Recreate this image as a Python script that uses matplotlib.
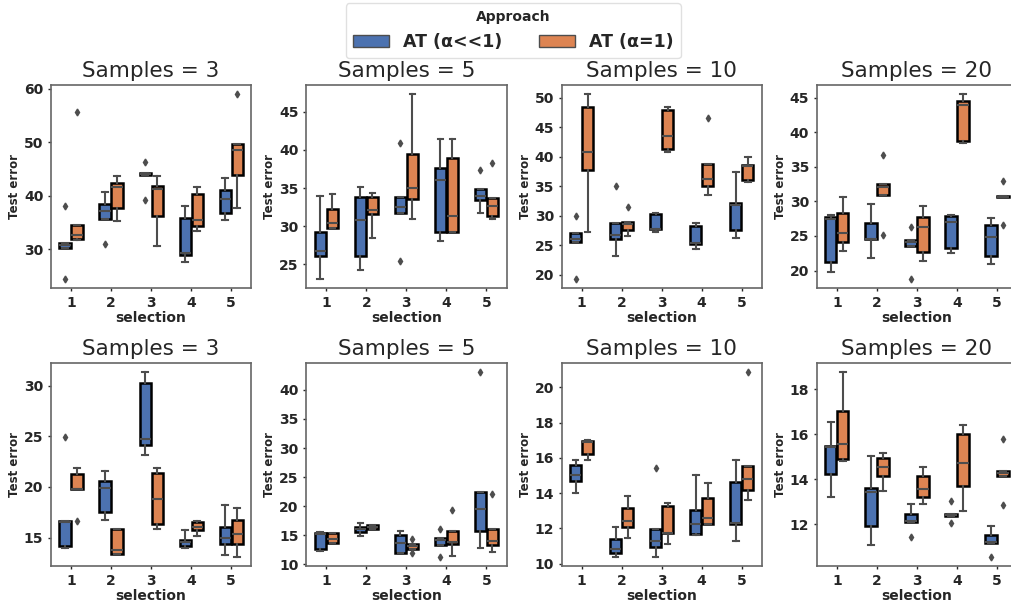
import matplotlib
matplotlib.use("Agg")
import matplotlib.pyplot as plt
from matplotlib.patches import Patch
from matplotlib.ticker import MultipleLocator
import numpy as np


SELECTION = [1, 2, 3, 4, 5]
SAMPLES = [3, 5, 10, 20]
APPROACHES = ["AT (α<<1)", "AT (α=1)"]
COLORS = ["#4C72B0", "#DD8452"]

# one tuple per selection: (whisker low, q1, median, q3, whisker high, [outliers])
TOP_3_SMALL = [
    (30.2, 30.2, 30.9, 31.2, 31.2, [38.2, 24.5]),
    (35.6, 35.7, 37.2, 38.5, 40.8, [31.0]),
    (44.0, 44.0, 44.1, 44.2, 44.2, [46.3, 39.2]),
    (27.7, 29.0, 29.3, 35.8, 38.1, []),
    (35.5, 36.9, 39.5, 41.2, 43.3, []),
]
TOP_3_FULL = [
    (31.8, 31.9, 32.7, 34.6, 34.6, [55.7]),
    (35.4, 37.7, 41.7, 42.5, 43.7, []),
    (30.7, 36.2, 41.3, 41.8, 43.7, []),
    (33.4, 34.4, 35.5, 40.3, 41.7, []),
    (37.7, 44.0, 48.6, 49.8, 49.8, [59.0]),
]
TOP_5_SMALL = [
    (23.1, 26.1, 26.7, 29.3, 33.9, []),
    (24.3, 26.1, 30.8, 33.8, 35.2, []),
    (31.7, 31.7, 32.5, 33.8, 33.8, [40.9, 25.5]),
    (28.0, 29.2, 36.0, 37.6, 41.5, []),
    (31.7, 33.5, 34.0, 34.9, 34.9, [37.4]),
]
TOP_5_FULL = [
    (29.8, 29.8, 30.4, 32.3, 34.2, []),
    (28.5, 31.6, 32.1, 33.8, 34.4, []),
    (31.0, 33.6, 35.0, 39.5, 47.3, []),
    (29.3, 29.3, 31.3, 38.9, 41.5, []),
    (31.0, 31.4, 32.7, 33.7, 33.7, [38.3]),
]
TOP_10_SMALL = [
    (25.6, 25.6, 26.1, 27.1, 27.1, [30.0, 19.3]),
    (23.2, 26.0, 26.8, 28.7, 28.7, [35.1]),
    (27.2, 27.7, 27.8, 30.3, 30.4, []),
    (24.4, 25.2, 25.4, 28.3, 28.8, []),
    (26.3, 27.6, 31.9, 32.1, 37.5, []),
]
TOP_10_FULL = [
    (27.3, 37.8, 40.9, 48.5, 50.6, []),
    (26.6, 27.5, 28.6, 29.0, 29.0, [31.5]),
    (40.9, 41.3, 43.5, 47.9, 48.4, []),
    (33.5, 35.1, 36.2, 38.8, 38.8, [46.6]),
    (35.7, 36.1, 38.5, 38.6, 39.9, []),
]
TOP_20_SMALL = [
    (19.8, 21.3, 27.5, 27.7, 28.1, []),
    (21.8, 24.5, 24.6, 26.9, 29.7, []),
    (23.5, 23.5, 24.1, 24.4, 24.4, [26.3, 18.8]),
    (22.6, 23.3, 27.0, 27.9, 28.0, []),
    (20.9, 22.1, 24.9, 26.6, 27.6, []),
]
TOP_20_FULL = [
    (22.8, 24.1, 25.4, 28.3, 30.7, []),
    (30.9, 30.9, 32.1, 32.5, 32.5, [36.7, 25.1]),
    (21.4, 22.7, 26.3, 27.8, 29.4, []),
    (38.4, 38.8, 43.9, 44.5, 45.5, []),
    (30.7, 30.7, 30.7, 30.8, 30.8, [32.9, 26.6]),
]
BOT_3_SMALL = [
    (14.0, 14.2, 16.5, 16.6, 16.6, [24.9]),
    (16.7, 17.5, 19.9, 20.6, 21.6, []),
    (23.1, 24.1, 24.7, 30.2, 31.3, []),
    (14.0, 14.2, 14.6, 14.8, 15.7, []),
    (13.3, 14.35, 15.0, 16.0, 18.2, []),
]
BOT_3_FULL = [
    (19.8, 19.8, 19.8, 21.3, 21.9, [16.6]),
    (13.4, 13.4, 13.75, 15.8, 15.8, []),
    (15.8, 16.3, 18.8, 21.4, 21.9, []),
    (15.2, 15.7, 16.05, 16.5, 16.6, []),
    (13.1, 14.35, 15.4, 16.7, 17.95, []),
]
BOT_5_SMALL = [
    (12.3, 12.6, 15.3, 15.4, 15.5, []),
    (14.9, 15.5, 16.1, 16.5, 17.1, []),
    (12.0, 12.0, 13.7, 15.0, 15.8, []),
    (13.4, 13.4, 14.2, 14.5, 14.5, [16.1, 11.3]),
    (12.8, 15.7, 19.5, 22.4, 22.4, [43.0]),
]
BOT_5_FULL = [
    (13.7, 13.7, 14.4, 15.4, 15.4, []),
    (16.1, 16.1, 16.5, 16.7, 16.7, []),
    (12.7, 12.7, 13.1, 13.5, 13.5, [14.3, 12.0]),
    (11.5, 13.5, 13.8, 15.8, 15.8, [19.4]),
    (12.2, 13.4, 14.0, 16.0, 16.0, [22.1]),
]
BOT_10_SMALL = [
    (14.0, 14.7, 15.0, 15.6, 15.86, []),
    (10.38, 10.57, 10.8, 11.4, 12.07, []),
    (10.38, 10.95, 11.3, 11.97, 11.97, [15.4]),
    (11.6, 11.7, 12.26, 13.04, 15.03, []),
    (11.27, 12.26, 12.3, 14.63, 15.88, []),
]
BOT_10_FULL = [
    (15.9, 16.2, 16.87, 16.96, 17.0, []),
    (11.46, 12.07, 12.4, 13.17, 13.83, []),
    (11.12, 11.75, 11.75, 13.26, 13.45, []),
    (12.26, 12.26, 12.6, 13.74, 14.55, []),
    (13.6, 14.17, 14.82, 15.54, 15.54, [20.85]),
]
BOT_20_SMALL = [
    (13.2, 14.21, 15.44, 15.47, 16.54, []),
    (11.09, 11.91, 13.44, 13.6, 15.03, []),
    (12.1, 12.1, 12.16, 12.43, 12.9, [11.42]),
    (12.35, 12.35, 12.4, 12.46, 12.46, [13.05, 12.03]),
    (11.17, 11.17, 11.2, 11.54, 11.94, [10.55]),
]
BOT_20_FULL = [
    (14.8, 14.88, 15.55, 17.03, 18.74, []),
    (13.47, 14.14, 14.55, 14.95, 15.15, []),
    (12.9, 13.2, 13.57, 14.14, 14.55, []),
    (12.6, 13.69, 14.7, 16.0, 16.41, []),
    (14.14, 14.14, 14.29, 14.35, 14.35, [15.8, 12.83]),
]

PANELS = [
    [(TOP_3_SMALL, TOP_3_FULL), (TOP_5_SMALL, TOP_5_FULL),
     (TOP_10_SMALL, TOP_10_FULL), (TOP_20_SMALL, TOP_20_FULL)],
    [(BOT_3_SMALL, BOT_3_FULL), (BOT_5_SMALL, BOT_5_FULL),
     (BOT_10_SMALL, BOT_10_FULL), (BOT_20_SMALL, BOT_20_FULL)],
]
Y_STEPS = [[10, 5, 5, 5], [5, 5, 2, 2]]


def to_stats(rows):
    return [
        dict(whislo=r[0], q1=r[1], med=r[2], q3=r[3], whishi=r[4], fliers=r[5])
        for r in rows
    ]


def draw_panel(ax, groups, step, samples):
    x = np.arange(len(SELECTION))
    for k, (rows, color) in enumerate(zip(groups, COLORS)):
        offset = -0.15 if k == 0 else 0.15
        line = dict(color="0.3", linewidth=1.5)
        ax.bxp(
            to_stats(rows),
            positions=x + offset,
            widths=0.28,
            patch_artist=True,
            manage_ticks=False,
            boxprops=dict(facecolor=color, edgecolor="black", linewidth=1.8),
            whiskerprops=line,
            capprops=line,
            medianprops=line,
            flierprops=dict(marker="d", markersize=3.5, markerfacecolor="0.3",
                            markeredgecolor="0.3", linestyle="none"),
        )
    ax.set_xlim(-0.5, len(SELECTION) - 0.5)
    ax.set_xticks(x)
    ax.set_xticklabels([str(s) for s in SELECTION])
    ax.yaxis.set_major_locator(MultipleLocator(step))
    ax.set_title(f"Samples = {samples}", fontsize=15.5, color="0.15")
    ax.set_xlabel("selection", fontsize=10, fontweight="bold", color="0.15",
                  labelpad=1)
    ax.set_ylabel("Test error", fontsize=8.5, fontweight="bold", color="0.15",
                  labelpad=2)
    ax.tick_params(labelsize=10, colors="0.15", length=2.5, width=1, pad=3)
    for lab in ax.get_xticklabels() + ax.get_yticklabels():
        lab.set_fontweight("bold")
    for sp in ax.spines.values():
        sp.set_color("0.4")
        sp.set_linewidth(1.2)


def main() -> None:
    fig, axes = plt.subplots(2, 4, figsize=(10.12, 6.08), dpi=100)
    fig.subplots_adjust(left=0.0504, right=1.005, top=0.860, bottom=0.069,
                        wspace=0.275, hspace=0.37)

    for r in range(2):
        for c in range(4):
            draw_panel(axes[r, c], PANELS[r][c], Y_STEPS[r][c], SAMPLES[c])

    handles = [Patch(facecolor=col, edgecolor="0.3", label=lab)
               for col, lab in zip(COLORS, APPROACHES)]
    leg = fig.legend(
        handles=handles,
        loc="upper center",
        bbox_to_anchor=(0.507, 1.0),
        ncol=2,
        title="Approach",
        prop=dict(weight="bold", size=12.5),
        title_fontproperties=dict(weight="bold", size=10),
        handlelength=2.1,
        handleheight=0.75,
        handletextpad=0.8,
        columnspacing=2.1,
        borderaxespad=0.2,
        frameon=True,
    )
    leg.get_frame().set_edgecolor("0.85")
    for t in leg.get_texts():
        t.set_color("0.15")
    leg.get_title().set_color("0.15")

    fig.savefig("out.png", dpi=100)


if __name__ == "__main__":
    main()
